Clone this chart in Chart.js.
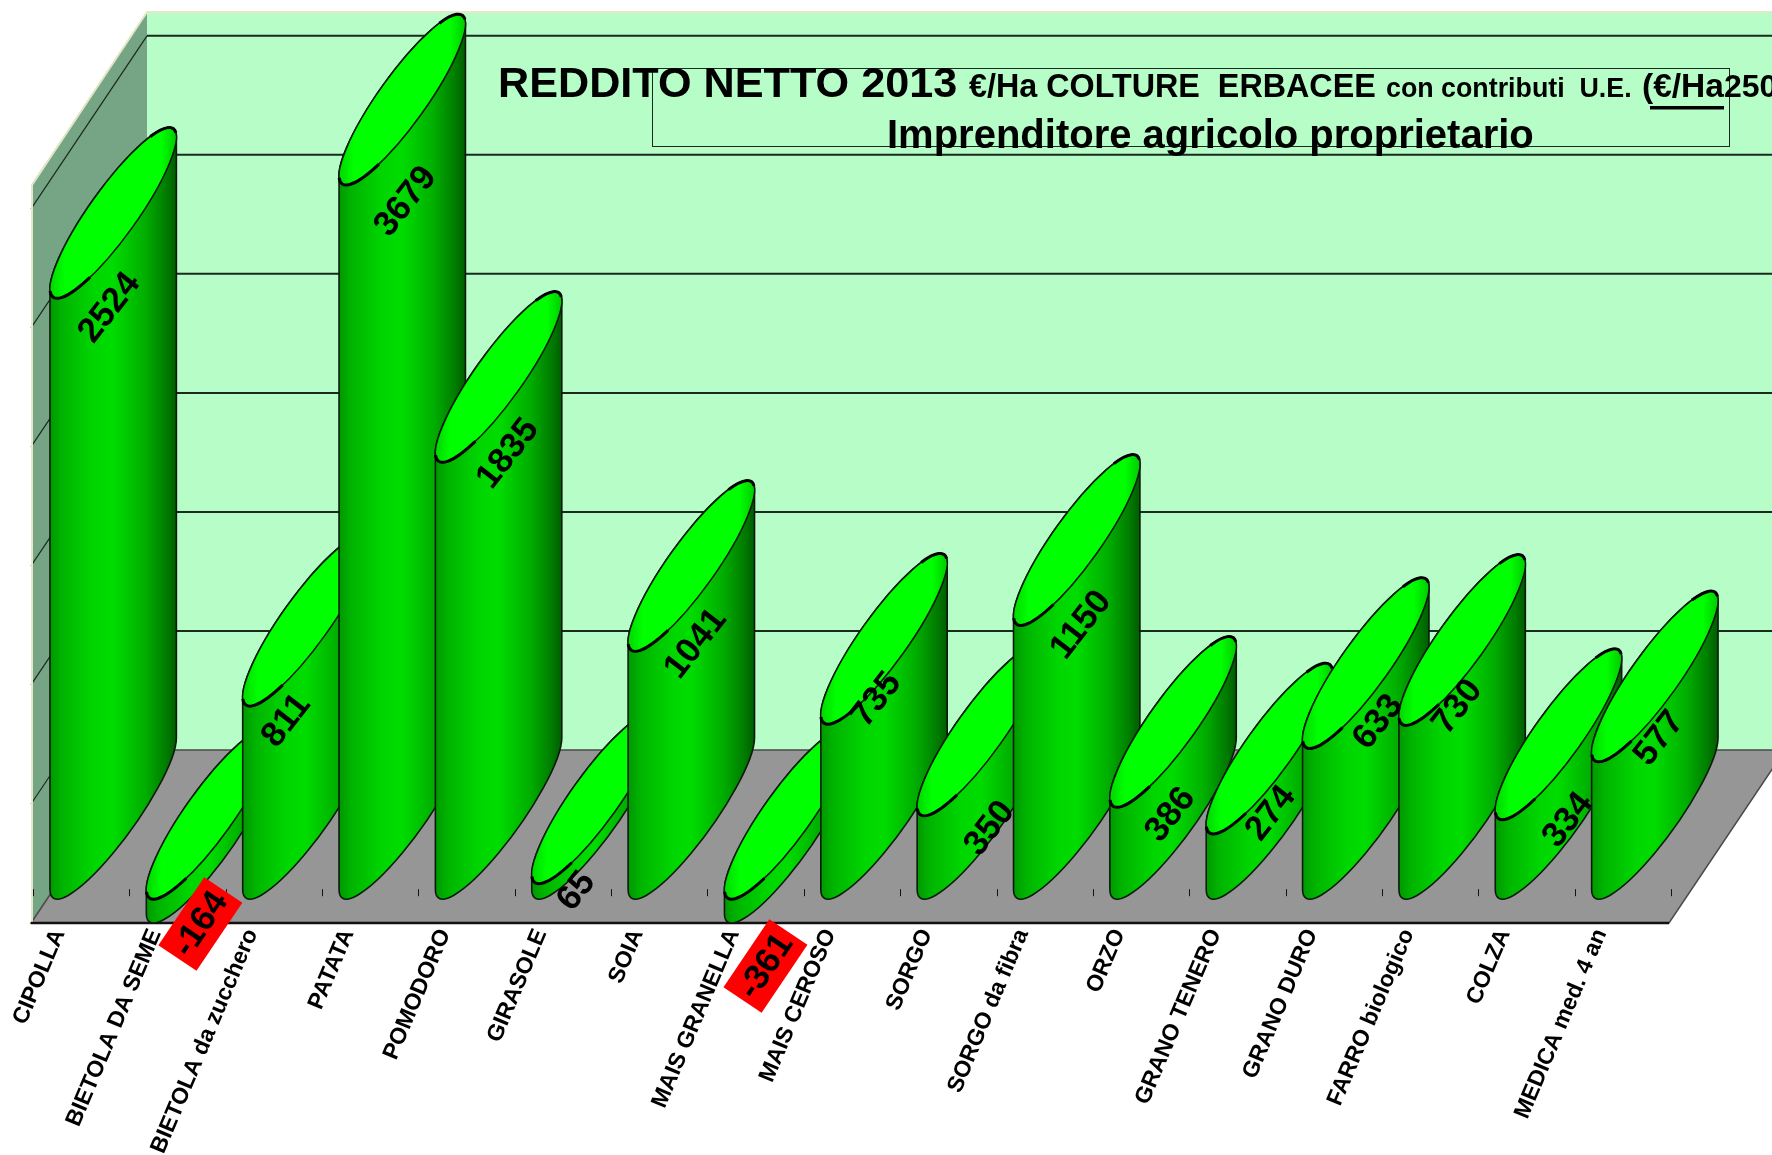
<!DOCTYPE html>
<html>
<head>
<meta charset="utf-8">
<title>Reddito netto 2013</title>
<script src="https://cdn.jsdelivr.net/npm/chart.js@4"></script>
<style>
    html, body { margin: 0; padding: 0; background: #fff; overflow: hidden; }
    canvas { display: block; }
</style>
</head>
<body>
<canvas id="redditoChart" width="1772" height="1155"></canvas>
<script>
const categories = ['CIPOLLA', 'BIETOLA DA SEME', 'BIETOLA da zucchero', 'PATATA', 'POMODORO', 'GIRASOLE', 'SOIA',
    'MAIS GRANELLA', 'MAIS CEROSO', 'SORGO', 'SORGO da fibra', 'ORZO', 'GRANO TENERO', 'GRANO DURO',
    'FARRO biologico', 'COLZA', 'MEDICA med. 4 an'];
const values = [2524, -164, 811, 3679, 1835, 65, 1041, -361, 735, 350, 1150, 386, 274, 633, 730, 334, 577];
const gridValues = [-100, 400, 900, 1400, 1900, 2400, 2900];
const yMin = -100;
const yMax = 3000;

// le etichette nel grafico originale sono spostate a mano
const labelShiftX = [59, 54, 43, 66, 72, 44, 67, 41, 55, 72, 67, 60, 64, 75, 58, 72, 67];
const labelShiftY = [9, 1, 14, 16, -9, 7, -8, 43, -25, 12, -1, 7, -21, -27, -19, 0, -24];

// profondita' del piano 3D
const depthX = 116;
const depthY = 173;

// forma del cilindro (ellisse inclinata)
const cylA = 103.5;
const cylB = 24;
const cylRot = -54.5 * Math.PI / 180;
const cylHalfW = Math.sqrt(Math.pow(cylA * Math.cos(cylRot), 2) + Math.pow(cylB * Math.sin(cylRot), 2));
const cylHalfH = Math.sqrt(Math.pow(cylA * Math.sin(cylRot), 2) + Math.pow(cylB * Math.cos(cylRot), 2));
const cylTangent = Math.atan2(-cylB * Math.sin(cylRot), cylA * Math.cos(cylRot));

const fontName = '"Liberation Sans", Arial, sans-serif';

function drawWalls(chart) {
    const ctx = chart.ctx;
    const area = chart.chartArea;
    const yScale = chart.scales.y;
    const l = area.left, r = area.right, t = area.top, b = area.bottom;

    ctx.save();
    // parete di fondo
    ctx.fillStyle = '#b7fdc8';
    ctx.fillRect(l + depthX, t - depthY, r - l, b - t);

    // parete sinistra
    ctx.fillStyle = '#76a585';
    ctx.beginPath();
    ctx.moveTo(l, t);
    ctx.lineTo(l + depthX, t - depthY);
    ctx.lineTo(l + depthX, b - depthY);
    ctx.lineTo(l, b);
    ctx.closePath();
    ctx.fill();

    // griglia su fondo e parete sinistra
    ctx.strokeStyle = '#1a2a1e';
    gridValues.forEach(function(v) {
        const y = yScale.getPixelForValue(v);
        if (v === yMin) return;
        ctx.lineWidth = 1.2;
        ctx.beginPath();
        ctx.moveTo(l, y);
        ctx.lineTo(l + depthX, y - depthY);
        ctx.stroke();
        ctx.lineWidth = 2;
        ctx.beginPath();
        ctx.moveTo(l + depthX, y - depthY);
        ctx.lineTo(r + depthX, y - depthY);
        ctx.stroke();
    });

    // pavimento
    ctx.fillStyle = '#969696';
    ctx.strokeStyle = '#4a4a4a';
    ctx.lineWidth = 1.5;
    ctx.beginPath();
    ctx.moveTo(l, b);
    ctx.lineTo(l + depthX, b - depthY);
    ctx.lineTo(r + depthX, b - depthY);
    ctx.lineTo(r, b);
    ctx.closePath();
    ctx.fill();
    ctx.stroke();

    // bordo chiaro delle pareti
    ctx.strokeStyle = '#e6e6c8';
    ctx.lineWidth = 2;
    ctx.beginPath();
    ctx.moveTo(l + 1, b);
    ctx.lineTo(l + 1, t);
    ctx.lineTo(l + depthX, t - depthY);
    ctx.lineTo(r + depthX, t - depthY);
    ctx.stroke();

    // linea frontale
    ctx.strokeStyle = '#111';
    ctx.lineWidth = 2.5;
    ctx.beginPath();
    ctx.moveTo(l, b);
    ctx.lineTo(r, b);
    ctx.stroke();

    // tacche dell'asse x sul pavimento
    const xScale = chart.scales.x;
    const step = xScale.width / categories.length;
    const y0 = yScale.getPixelForValue(0);
    ctx.strokeStyle = '#111';
    ctx.lineWidth = 1;
    for (let i = 0; i <= categories.length; i++) {
        const x = Math.round(xScale.getPixelForValue(0) - step / 2 + i * step + 2) + 0.5;
        ctx.beginPath();
        ctx.moveTo(x, y0 - 10);
        ctx.lineTo(x, y0 - 3);
        ctx.stroke();
    }
    ctx.restore();
}

function drawCylinder(ctx, bar, area) {
    const left = bar.x - bar.width / 2;
    const cx = left + cylHalfW;
    const yA = Math.max(area.top, Math.min(area.bottom, bar.y));
    const yB = Math.max(area.top, Math.min(area.bottom, bar.base));
    const topY = Math.min(yA, yB) - cylHalfH;
    const bottomY = Math.max(yA, yB) - cylHalfH;

    const bodyFill = ctx.createLinearGradient(left, 0, left + 2 * cylHalfW, 0);
    bodyFill.addColorStop(0, '#009800');
    bodyFill.addColorStop(0.1, '#00b400');
    bodyFill.addColorStop(0.35, '#00d600');
    bodyFill.addColorStop(0.5, '#00dc00');
    bodyFill.addColorStop(0.75, '#00ae00');
    bodyFill.addColorStop(0.92, '#007c00');
    bodyFill.addColorStop(1, '#005c00');

    // corpo: dal punto sinistro dell'ellisse superiore a quella inferiore
    ctx.beginPath();
    ctx.ellipse(cx, topY, cylA, cylB, cylRot, cylTangent + Math.PI, cylTangent + 2 * Math.PI);
    ctx.ellipse(cx, bottomY, cylA, cylB, cylRot, cylTangent, cylTangent + Math.PI);
    ctx.closePath();
    ctx.fillStyle = bodyFill;
    ctx.fill();
    ctx.strokeStyle = '#0c1a0c';
    ctx.lineWidth = 1.6;
    ctx.stroke();

    // faccia superiore
    const topFill = ctx.createLinearGradient(left, 0, left + 2 * cylHalfW, 0);
    topFill.addColorStop(0, '#00d800');
    topFill.addColorStop(0.12, '#00ff00');
    topFill.addColorStop(0.88, '#00ff00');
    topFill.addColorStop(1, '#00cc00');
    ctx.beginPath();
    ctx.ellipse(cx, topY, cylA, cylB, cylRot, 0, 2 * Math.PI);
    ctx.fillStyle = topFill;
    ctx.fill();
    ctx.lineWidth = 1.6;
    ctx.stroke();

    // tratti piu' spessi alle due punte
    ctx.lineWidth = 3;
    ctx.strokeStyle = '#000';
    ctx.beginPath();
    ctx.ellipse(cx, topY, cylA, cylB, cylRot, Math.PI * 0.72, Math.PI * 1.08);
    ctx.stroke();
    ctx.beginPath();
    ctx.ellipse(cx, topY, cylA, cylB, cylRot, Math.PI * 1.8, Math.PI * 2.06);
    ctx.stroke();
}

function drawValueLabels(chart) {
    const ctx = chart.ctx;
    const area = chart.chartArea;
    const bars = chart.getDatasetMeta(0).data;
    ctx.save();
    ctx.textAlign = 'center';
    ctx.textBaseline = 'middle';
    ctx.font = 'bold 35px ' + fontName;
    bars.forEach(function(bar, i) {
        const left = bar.x - bar.width / 2;
        const y = Math.max(area.top, Math.min(area.bottom, bar.y));
        const lx = left + labelShiftX[i];
        const ly = y + labelShiftY[i];
        ctx.save();
        ctx.translate(lx, ly);
        ctx.rotate((values[i] < 0 ? -56 : -52) * Math.PI / 180);
        if (values[i] < 0) {
            ctx.fillStyle = '#ff0000';
            ctx.fillRect(-41, -23, 82, 46);
        }
        ctx.fillStyle = '#000';
        ctx.fillText(String(values[i]), 0, 1);
        ctx.restore();
    });
    ctx.restore();
}

function drawTitle(chart) {
    const ctx = chart.ctx;
    ctx.save();
    ctx.strokeStyle = '#1a2a1e';
    ctx.lineWidth = 1;
    ctx.strokeRect(652.5, 68.5, 1077, 78);

    ctx.fillStyle = '#000';
    ctx.textAlign = 'left';
    ctx.textBaseline = 'alphabetic';
    ctx.font = 'bold 43.2px ' + fontName;
    ctx.fillText('REDDITO NETTO 2013', 498, 97);
    ctx.font = 'bold 32.3px ' + fontName;
    ctx.fillText('€/Ha COLTURE  ERBACEE', 969, 97);
    ctx.font = 'bold 26.8px ' + fontName;
    ctx.fillText('con contributi  U.E.', 1386, 97);
    ctx.font = 'bold 33.5px ' + fontName;
    ctx.fillText('(€/Ha', 1642, 97);
    ctx.font = 'bold 32px ' + fontName;
    ctx.fillText('250', 1724, 97);
    ctx.fillRect(1650, 106, 74, 3.5);

    ctx.font = 'bold 40px ' + fontName;
    ctx.fillText('Imprenditore agricolo proprietario', 887, 148);
    ctx.restore();
}

const cylinderPlugin = {
    id: 'cylinders',
    beforeDatasetsDraw: function(chart) {
        drawWalls(chart);
    },
    beforeDatasetDraw: function(chart, args) {
        args.meta.data.forEach(function(bar) {
            drawCylinder(chart.ctx, bar, chart.chartArea);
        });
        return false;
    },
    afterDatasetsDraw: function(chart) {
        drawValueLabels(chart);
        drawTitle(chart);
    }
};

new Chart(document.getElementById('redditoChart').getContext('2d'), {
    type: 'bar',
    data: {
        labels: categories,
        datasets: [{
            label: 'Reddito netto',
            data: values,
            barPercentage: 0.606,
            categoryPercentage: 1
        }]
    },
    plugins: [cylinderPlugin],
    options: {
        responsive: false,
        animation: false,
        layout: { padding: { left: 31, right: 103, top: 185, bottom: 0 } },
        plugins: { legend: { display: false }, title: { display: false }, tooltip: { enabled: false } },
        scales: {
            x: {
                grid: { display: false },
                border: { display: false },
                afterFit: function(scale) {
                    scale.height = 232;
                    scale.paddingLeft = 0;
                    scale.paddingRight = 0;
                },
                ticks: {
                    autoSkip: false,
                    minRotation: 67,
                    maxRotation: 67,
                    padding: -6,
                    labelOffset: -20,
                    color: '#000',
                    font: { family: 'Liberation Sans', size: 23, weight: 'bold' }
                }
            },
            y: {
                min: yMin,
                max: yMax,
                grid: { display: false },
                border: { display: false },
                ticks: { display: false },
                afterFit: function(scale) { scale.width = 0; }
            }
        }
    }
});
</script>
</body>
</html>
